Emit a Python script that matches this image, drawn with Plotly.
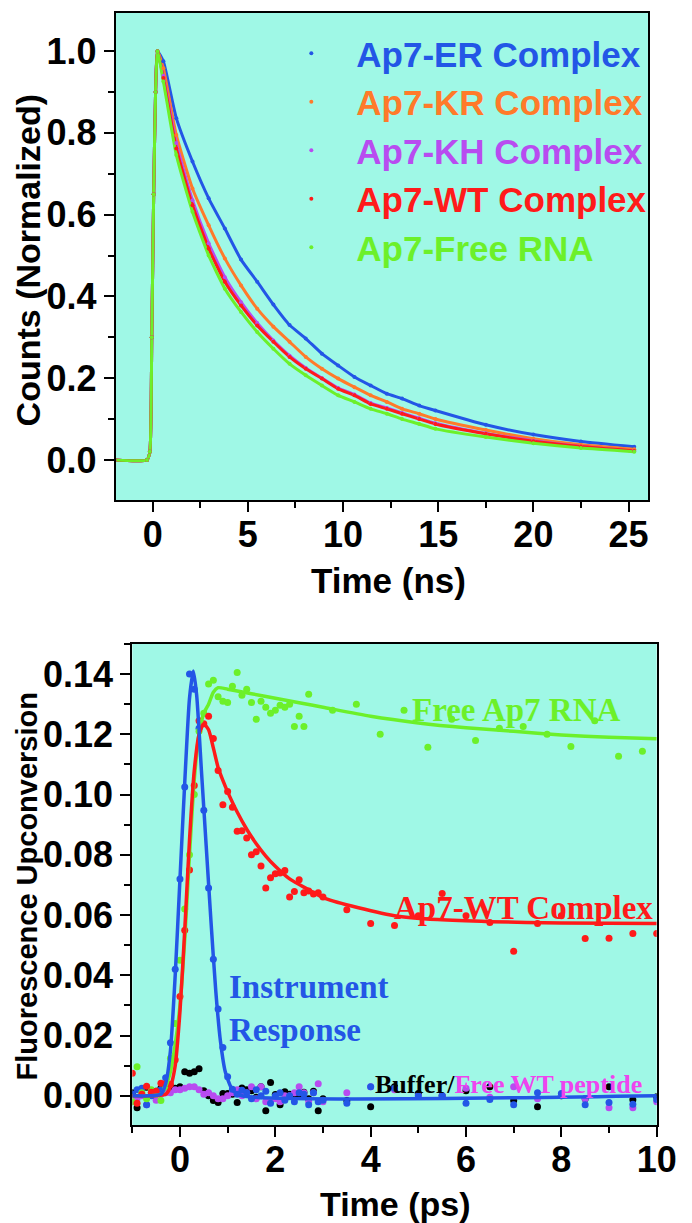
import plotly.graph_objects as go

# ---------------- Top panel data (TCSPC decays) ----------------
T_NS = [-2.0, -0.3, -0.15, -0.05, 0.05, 0.15, 0.25, 0.56, 1.24, 2.09, 2.94, 3.79, 4.64, 5.49,
        6.34, 7.19, 8.04, 8.89, 9.74, 10.6, 11.45, 12.3, 13.1, 14.0, 14.85, 17.5, 20.0, 22.5, 25.3]
RISE = [0.0, 0.0, 0.02, 0.3, 0.65, 0.9, 1.0]
ER = RISE + [0.975, 0.836, 0.73, 0.64, 0.566, 0.49, 0.436, 0.38, 0.33, 0.297, 0.26, 0.231, 0.203,
             0.182, 0.162, 0.15, 0.133, 0.121, 0.086, 0.062, 0.045, 0.032]
KR = RISE + [0.958, 0.795, 0.664, 0.574, 0.493, 0.427, 0.37, 0.326, 0.289, 0.252, 0.223, 0.199,
             0.178, 0.158, 0.142, 0.125, 0.113, 0.10, 0.073, 0.052, 0.037, 0.026]
KH = RISE + [0.94, 0.775, 0.635, 0.53, 0.447, 0.386, 0.335, 0.292, 0.255, 0.225, 0.2, 0.176, 0.16,
             0.139, 0.127, 0.115, 0.102, 0.09, 0.065, 0.047, 0.033, 0.022]
WT = RISE + [0.934, 0.762, 0.623, 0.517, 0.436, 0.378, 0.329, 0.289, 0.252, 0.223, 0.199, 0.174,
             0.158, 0.137, 0.125, 0.113, 0.10, 0.088, 0.064, 0.046, 0.033, 0.022]
FREE = RISE + [0.926, 0.746, 0.607, 0.50, 0.419, 0.362, 0.313, 0.272, 0.235, 0.207, 0.182, 0.158,
               0.142, 0.125, 0.113, 0.10, 0.088, 0.076, 0.056, 0.041, 0.029, 0.02]
TOP_NAMES = ["Ap7-ER Complex", "Ap7-KR Complex", "Ap7-KH Complex", "Ap7-WT Complex", "Ap7-Free RNA"]
TOP_COLORS = ["#2356e6", "#ff7a2a", "#b84cf0", "#ff1a1a", "#6cf02a"]
TOP_SERIES = [ER, KR, KH, WT, FREE]

# ---------------- Bottom panel data (upconversion) ----------------
T_PS = [-1.0, -0.9, -0.8, -0.7, -0.6, -0.5, -0.4, -0.3, -0.2, -0.1, 0.0, 0.1, 0.2, 0.3, 0.4, 0.5,
        0.6, 0.7, 0.8, 0.9, 1.0, 1.1, 1.2, 1.3, 1.4, 1.5, 1.6, 1.7, 1.8, 1.9, 2.0, 2.1, 2.2, 2.3,
        2.4, 2.5, 2.6, 2.7, 2.8, 2.9, 3.0, 3.5, 4.0, 4.5, 5.0, 5.5, 6.0, 6.5, 7.0, 7.5, 8.0, 8.5,
        9.0, 9.5, 10.0]
WT_PTS = [0.0075, -0.0025, 0.0005, 0.0032, 0.0012, 0.0015, 0.0042, 0.004, 0.0038, 0.012, 0.033,
          0.055, 0.075, 0.103, 0.1245, 0.1235, 0.126, 0.1186, 0.108, 0.0966, 0.101, 0.0958, 0.0878,
          0.088, 0.0856, 0.080, 0.081, 0.0763, 0.069, 0.0724, 0.0737, 0.074, 0.0748, 0.066, 0.0678,
          0.0717, 0.0674, 0.068, 0.067, 0.0674, 0.066, 0.0618, 0.0572, 0.0565, 0.0598, 0.0672,
          0.0598, 0.0575, 0.048, 0.0572, 0.0598, 0.0522, 0.0523, 0.0539, 0.0539]
IRF_PTS = [0.0005, 0.002, 0.0025, -0.003, 0.0, 0.001, 0.002, 0.006, 0.0176, 0.042, 0.072, 0.1025,
           0.14, 0.135, 0.122, 0.0948, 0.069, 0.0453, 0.0288, 0.016, 0.0063, 0.0022, 0.0005, 0.0018,
           0.001, -0.001, 0.002, 0.0, 0.0015, -0.0025, 0.0, 0.001, -0.0015, 0.0, -0.002, 0.001,
           0.0005, -0.003, 0.001, -0.002, -0.0015, -0.0025, 0.003, 0.0025, 0.0, 0.0, -0.0025,
           -0.0012, -0.003, 0.001, 0.0008, -0.003, -0.0022, -0.0028, -0.0012]
BUFFER_PTS = [0.001, -0.004, 0.0022, 0.0028, 0.001, 0.0015, 0.0025, 0.0028, 0.003, 0.0025, 0.003,
              0.008, 0.0075, 0.008, 0.009, 0.0017, 0.0, -0.0016, -0.0022, 0.0008, 0.0008, 0.0005,
              -0.0022, 0.0026, 0.002, 0.0017, -0.0005, 0.003, -0.005, 0.0044, 0.0004, -0.003,
              0.0013, 0.0005, -0.0005, 0.0, 0.0012, -0.001, 0.0015, -0.005, -0.001, -0.0016,
              -0.0036, 0.003, 0.0008, 0.0, 0.0017, 0.003, -0.0016, -0.0036, 0.0, -0.001, 0.003,
              -0.0013, -0.0003]
PEPTIDE_PTS = [-0.002, -0.001, 0.0, -0.003, 0.0005, -0.0015, 0.0005, 0.001, 0.001, 0.002, 0.002,
               0.0025, 0.003, 0.003, 0.002, 0.0005, 0.001, 0.0, -0.001, -0.001, 0.0, 0.001, 0.002,
               0.0, 0.001, 0.003, -0.001, 0.003, -0.002, -0.002, -0.001, -0.002, 0.0, 0.0, 0.001,
               0.003, 0.001, -0.002, 0.001, 0.004, -0.002, 0.001, 0.003, 0.002, 0.0, 0.0, 0.0025,
               -0.0005, 0.003, -0.001, 0.0, -0.001, -0.004, -0.004, -0.002]
RNA_T = [-1.0, -0.9, -0.8, -0.7, -0.6, -0.5, -0.4, -0.3, -0.2, -0.1, 0.0, 0.1, 0.2, 0.3, 0.4, 0.5,
         0.6, 0.7, 0.8, 0.9, 1.0, 1.1, 1.2, 1.3, 1.4, 1.5, 1.6, 1.7, 1.8, 1.9, 2.0, 2.1, 2.2, 2.3,
         2.4, 2.5, 2.6, 2.7, 3.2, 3.7, 4.2, 4.7, 5.2, 5.7, 6.2, 6.7, 7.2, 7.7, 8.2, 8.7, 9.2, 9.7]
RNA_PTS = [-0.002, 0.0096, 0.001, -0.001, 0.002, 0.0005, -0.0016, 0.003, 0.0125, 0.024, 0.045,
           0.062, 0.08, 0.1, 0.121, 0.127, 0.1367, 0.138, 0.1325, 0.131, 0.1306, 0.136, 0.1405,
           0.133, 0.135, 0.1306, 0.125, 0.131, 0.129, 0.127, 0.128, 0.1297, 0.129, 0.13, 0.1226,
           0.126, 0.1226, 0.1333, 0.128, 0.130, 0.120, 0.128, 0.1157, 0.125, 0.118, 0.122, 0.1226,
           0.120, 0.116, 0.1245, 0.1127, 0.1144]

IRF_FIT_T = [-1.0, -0.4, -0.3, -0.2, -0.1, 0.0, 0.1, 0.2, 0.28, 0.35, 0.45, 0.55, 0.65, 0.75, 0.85,
             0.95, 1.1, 1.3, 10.0]
IRF_FIT = [0.0, 0.0005, 0.004, 0.015, 0.04, 0.072, 0.104, 0.132, 0.141, 0.133, 0.108, 0.083, 0.058,
           0.035, 0.018, 0.008, 0.002, 0.0, 0.0]
WT_FIT_T = [-1.0, -0.3, -0.2, -0.1, 0.0, 0.1, 0.2, 0.3, 0.4, 0.5, 0.6, 0.7, 0.8, 0.9, 1.0, 1.2, 1.4,
            1.6, 1.8, 2.0, 2.3, 2.7, 3.0, 3.6, 4.5, 5.4, 6.5, 8.0, 10.0]
WT_FIT = [0.0, 0.0005, 0.003, 0.01, 0.028, 0.055, 0.085, 0.108, 0.12, 0.1235, 0.1215, 0.1155, 0.109,
          0.1047, 0.1009, 0.0942, 0.0885, 0.0837, 0.0796, 0.0762, 0.072, 0.0684, 0.0658, 0.063,
          0.0598, 0.0585, 0.0578, 0.0574, 0.0572]
RNA_FIT_T = [-1.0, -0.4, -0.3, -0.2, -0.1, 0.0, 0.1, 0.2, 0.3, 0.4, 0.5, 0.6, 0.7, 0.8, 1.0, 1.5,
             2.0, 2.5, 3.0, 4.0, 5.0, 6.0, 7.0, 8.0, 9.0, 10.0]
RNA_FIT = [0.0, 0.0005, 0.003, 0.008, 0.017, 0.03, 0.052, 0.08, 0.105, 0.12, 0.127, 0.13, 0.134,
           0.1355, 0.135, 0.1335, 0.132, 0.1305, 0.129, 0.126, 0.1238, 0.1222, 0.121, 0.1198,
           0.119, 0.1185]

C_BLUE, C_RED, C_GREEN, C_PURPLE, C_MAG = "#2356e6", "#ff1a1a", "#6cf02a", "#b84cf0", "#ee44ee"
BG = "#9ff8e6"
SANS = "Liberation Sans, Arial, sans-serif"
SERIF = "Liberation Serif, Times New Roman, serif"

fig = go.Figure()

# top panel
for name, col, ys in zip(TOP_NAMES, TOP_COLORS, TOP_SERIES):
    fig.add_trace(go.Scatter(x=T_NS, y=ys, mode="lines",
                             line=dict(color=col, width=3, shape="spline", smoothing=0.5),
                             showlegend=False, xaxis="x", yaxis="y", hoverinfo="skip"))
for name, col, ys in zip(TOP_NAMES, TOP_COLORS, TOP_SERIES):
    fig.add_trace(go.Scatter(x=T_NS, y=ys, mode="markers", marker=dict(color=col, size=4),
                             name=f"<span style='color:{col}'>{name}</span>", xaxis="x", yaxis="y"))

# bottom panel points
fig.add_trace(go.Scatter(x=T_PS, y=BUFFER_PTS, mode="markers", marker=dict(color="black", size=7),
                         showlegend=False, xaxis="x2", yaxis="y2"))
fig.add_trace(go.Scatter(x=T_PS, y=PEPTIDE_PTS, mode="markers", marker=dict(color=C_PURPLE, size=7),
                         showlegend=False, xaxis="x2", yaxis="y2"))
fig.add_trace(go.Scatter(x=T_PS, y=IRF_PTS, mode="markers", marker=dict(color=C_BLUE, size=7),
                         showlegend=False, xaxis="x2", yaxis="y2"))
fig.add_trace(go.Scatter(x=RNA_T, y=RNA_PTS, mode="markers", marker=dict(color=C_GREEN, size=7),
                         showlegend=False, xaxis="x2", yaxis="y2"))
fig.add_trace(go.Scatter(x=T_PS, y=WT_PTS, mode="markers", marker=dict(color=C_RED, size=7),
                         showlegend=False, xaxis="x2", yaxis="y2"))
# fits
fig.add_trace(go.Scatter(x=RNA_FIT_T, y=RNA_FIT, mode="lines",
                         line=dict(color=C_GREEN, width=3.5, shape="spline", smoothing=0.6),
                         showlegend=False, xaxis="x2", yaxis="y2"))
fig.add_trace(go.Scatter(x=WT_FIT_T, y=WT_FIT, mode="lines",
                         line=dict(color=C_RED, width=3.5, shape="spline", smoothing=0.6),
                         showlegend=False, xaxis="x2", yaxis="y2"))
fig.add_trace(go.Scatter(x=IRF_FIT_T, y=IRF_FIT, mode="lines",
                         line=dict(color=C_BLUE, width=3.5, shape="spline", smoothing=0.6),
                         showlegend=False, xaxis="x2", yaxis="y2"))

W, H = 692, 1223
def px(v): return v / W
def py(v): return 1 - v / H

axis_common = dict(showline=True, linecolor="black", linewidth=2, mirror=True, showgrid=False,
                   zeroline=False, ticks="outside", tickcolor="black", tickwidth=2, ticklen=10,
                   tickfont=dict(family=SANS, size=36, color="black", weight="bold"))
minor_common = dict(ticks="outside", ticklen=6, tickwidth=2, tickcolor="black")

fig.update_layout(
    width=W, height=H, margin=dict(l=0, r=0, t=0, b=0),
    paper_bgcolor="white", plot_bgcolor=BG,
    xaxis=dict(domain=[px(111), px(659)], range=[-1.94, 26.02], anchor="y",
               tickvals=[0, 5, 10, 15, 20, 25], minor=dict(dtick=2.5, tick0=0, **minor_common),
               ticklabelstandoff=-8, **axis_common),
    yaxis=dict(domain=[py(492), py(4.7)], range=[-0.098, 1.094], anchor="x",
               tickvals=[0, 0.2, 0.4, 0.6, 0.8, 1.0], tickformat=".1f",
               minor=dict(dtick=0.1, tick0=0, **minor_common), **axis_common),
    xaxis2=dict(domain=[px(128), px(668)], range=[-1.0, 10.0], anchor="y2",
                tickvals=[0, 2, 4, 6, 8, 10], minor=dict(dtick=1, tick0=0, **minor_common),
                ticklabelstandoff=-8, **axis_common),
    yaxis2=dict(domain=[py(1117), py(636)], range=[-0.0097, 0.150], anchor="x2",
                tickvals=[0, 0.02, 0.04, 0.06, 0.08, 0.10, 0.12, 0.14], tickformat=".2f",
                minor=dict(dtick=0.01, tick0=0, **minor_common), **axis_common),
    legend=dict(x=px(266), y=py(16), xanchor="left", yanchor="top", bgcolor="rgba(0,0,0,0)",
                font=dict(family=SANS, size=35, weight="bold"), itemwidth=80, tracegroupgap=0),
    showlegend=True,
)

def a(text, x, y, xref="paper", yref="paper", **kw):
    d = dict(text=text, x=x, y=y, xref=xref, yref=yref, showarrow=False,
             xanchor="center", yanchor="middle")
    d.update(kw)
    return d

ann = [
    a("Time (ns)", px(392), py(572), font=dict(family=SANS, size=35, color="black", weight="bold")),
    a("Counts (Normalized)", px(21), py(252), textangle=-90,
      font=dict(family=SANS, size=34, color="black", weight="bold")),
    a("Time (ps)", px(399), py(1196), font=dict(family=SANS, size=34, color="black", weight="bold")),
    a("Fluorescence Upconversion", px(20), py(878), textangle=-90,
      font=dict(family=SANS, size=29, color="black", weight="bold")),
    a("Free Ap7 RNA", 7.05, 0.128, "x2", "y2",
      font=dict(family=SERIF, size=33, color=C_GREEN, weight="bold")),
    a("Ap7-WT Complex", 7.2, 0.0625, "x2", "y2",
      font=dict(family=SERIF, size=33, color=C_RED, weight="bold")),
    a("Instrument<br>Response", 0.98, 0.029, "x2", "y2", xanchor="left", align="left",
      font=dict(family=SERIF, size=33, color=C_BLUE, weight="bold")),
    a(f"Buffer/<span style='color:{C_MAG}'>Free WT peptide</span>", 6.9, 0.0038, "x2", "y2",
      font=dict(family=SERIF, size=26, color="black", weight="bold")),
]
fig.update_layout(annotations=ann)

fig.write_html("out.html")
